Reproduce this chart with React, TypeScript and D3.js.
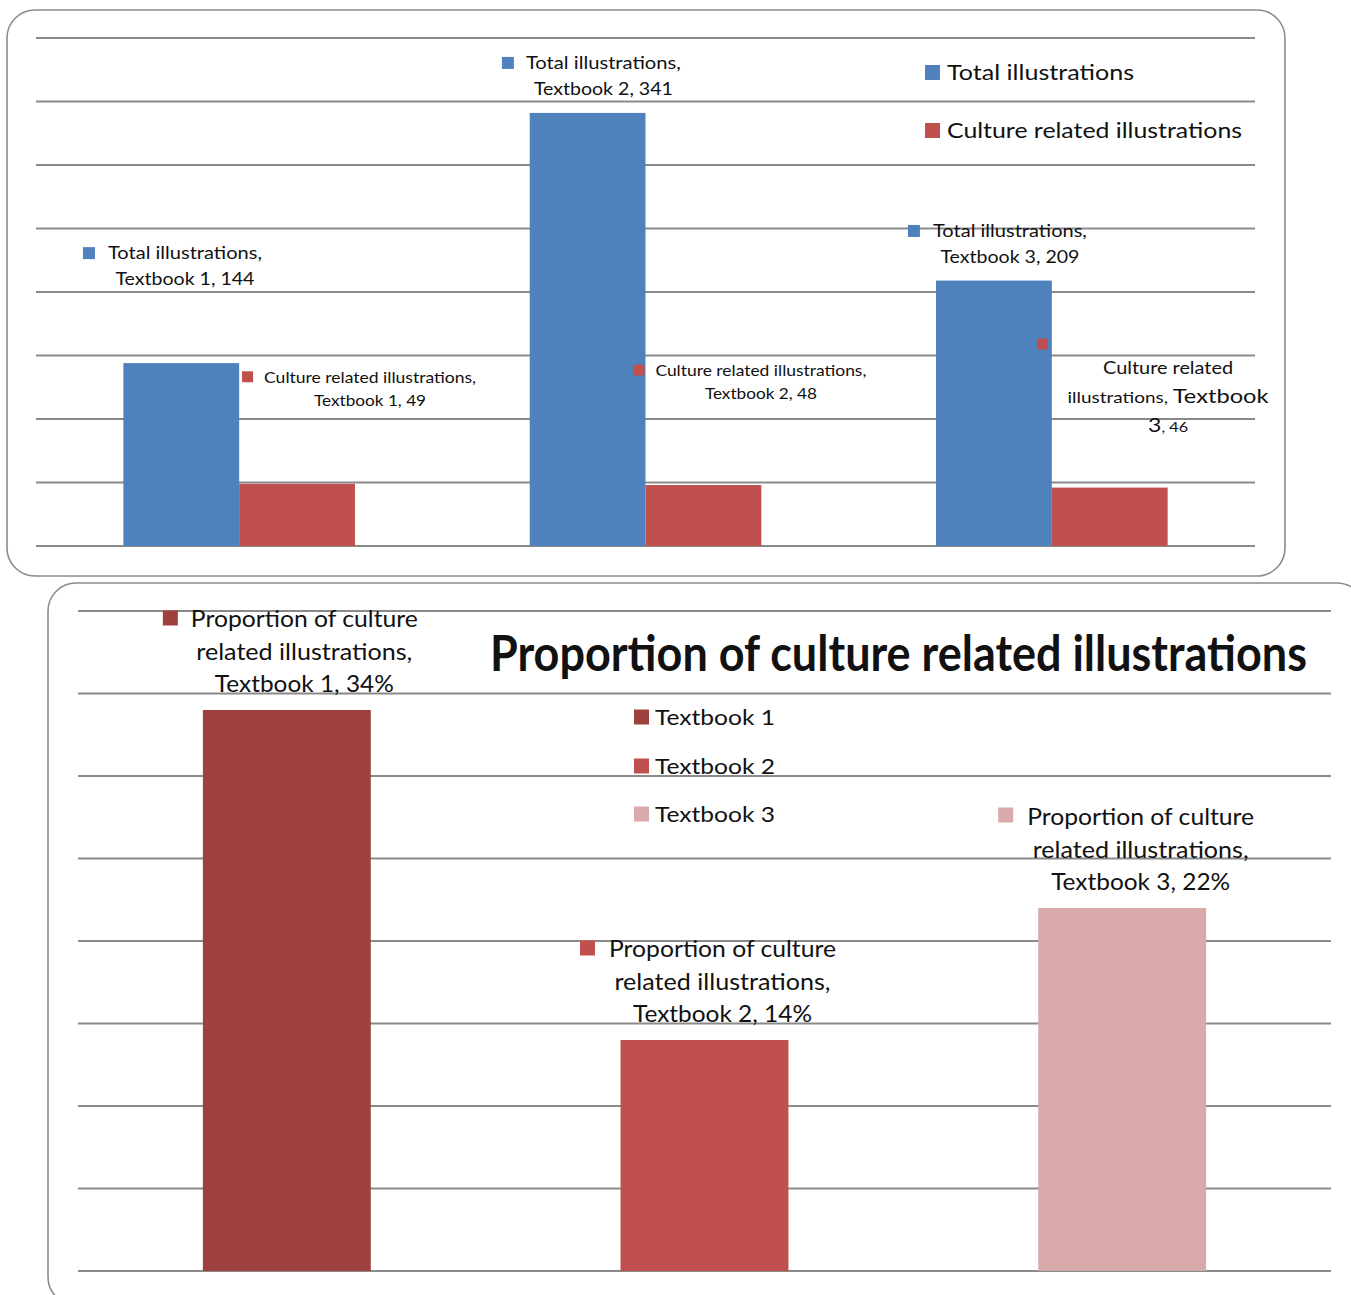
import React from 'react';
import * as d3 from 'd3';

// ---------- data ----------
const categories = ['Textbook 1', 'Textbook 2', 'Textbook 3'];
const seriesNames = ['Total illustrations', 'Culture related illustrations'];
const totalIllustrations = [144, 341, 209];
const cultureIllustrations = [49, 48, 46];
const proportionName = 'Proportion of culture related illustrations';
const proportions = [34, 14, 22];
const topTickCount = 8;
const bottomTickCount = 8;

// ---------- styles / layout ----------
const topColors = ['#4F81BD', '#C0504D'];
const bottomColors = ['#9E413E', '#C0504D', '#D9AAAA'];
const FONT = 'Lato, "Open Sans", sans-serif';
const GRID = '#8a8a8a';

// label anchors relative to bar centre / bar top (line 1 centre)
const totalLabelLayout = [
  { dx: 3.7, dy: -110, mdx: -102, mdy: 0, w: [154, 139] },
  { dx: 15.8, dy: -50, mdx: -101.5, mdy: 0, w: [155, 139] },
  { dx: 16, dy: -49.6, mdx: -102, mdy: 0, w: [154, 139] },
];
const cultureLabelLayout = [
  { dx: 73, dy: -106, mdx: -128, mdy: -1, w: [212, 112] },
  { dx: 57.5, dy: -114, mdx: -127.5, mdy: -1, w: [211, 112] },
  { dx: 58.3, dy: -119.6, mdx: -131, mdy: -24, w: [130, 201, 40] },
];
const bottomLabelLayout = [
  { dx: 17.5, dy: -91, mdx: -141.5, mdy: -1, w: [227, 216, 179] },
  { dx: 18, dy: -91, mdx: -142.5, mdy: -1, w: [227, 216, 179] },
  { dx: 18.5, dy: -91, mdx: -142.5, mdy: -2, w: [227, 216, 179] },
];

function T({ x, y, fs, w, anchor = 'middle', weight = 'normal', children }: any) {
  return (
    <text
      x={x}
      y={y + fs * 0.36}
      fontSize={fs}
      fontFamily={FONT}
      fontWeight={weight}
      textAnchor={anchor}
      fill="#111"
      textLength={w}
      lengthAdjust="spacingAndGlyphs"
    >
      {children}
    </text>
  );
}

export default function App() {
  // ----- top chart scales -----
  const xTop = d3.scaleBand<string>().domain(categories).range([36, 1255]).paddingInner(0.43).paddingOuter(0.215);
  const xSub = d3.scaleBand<string>().domain(seriesNames).range([0, xTop.bandwidth()]);
  const yTop = d3.scaleLinear().domain([0, 400]).range([546, 38]);
  const topTicks = yTop.ticks(topTickCount);
  const topSeries = [totalIllustrations, cultureIllustrations];

  // ----- bottom chart scales -----
  const xBot = d3.scaleBand<string>().domain(categories).range([78, 1331]).paddingInner(0.598).paddingOuter(0.299);
  const yBot = d3.scaleLinear().domain([0, 40]).range([1271, 611]);
  const botTicks = yBot.ticks(bottomTickCount);

  return (
    <svg width={1351} height={1295} style={{ position: 'absolute', left: 0, top: 0, background: '#fff' }}>
      {/* panels */}
      <rect x={7} y={10} width={1278} height={566} rx={28} fill="#fff" stroke="#8c8c8c" strokeWidth={1.6} />
      <rect x={48} y={583} width={1317} height={722} rx={28} fill="#fff" stroke="#8c8c8c" strokeWidth={1.6} />

      {/* ===== top chart ===== */}
      {topTicks.map((t) => (
        <line key={'tg' + t} x1={36} x2={1255} y1={yTop(t)} y2={yTop(t)} stroke={GRID} strokeWidth={2} />
      ))}
      {categories.map((c, i) =>
        seriesNames.map((s, j) => {
          const v = topSeries[j][i];
          return (
            <rect
              key={c + s}
              x={(xTop(c) as number) + (xSub(s) as number)}
              y={yTop(v)}
              width={xSub.bandwidth()}
              height={yTop(0) - yTop(v)}
              fill={topColors[j]}
            />
          );
        })
      )}
      {/* total labels */}
      {categories.map((c, i) => {
        const L = totalLabelLayout[i];
        const cx = (xTop(c) as number) + (xSub(seriesNames[0]) as number) + xSub.bandwidth() / 2 + L.dx;
        const cy = yTop(totalIllustrations[i]) + L.dy;
        const lines = [`${seriesNames[0]},`, `${c}, ${totalIllustrations[i]}`];
        return (
          <g key={'tl' + c}>
            <rect x={cx + L.mdx} y={cy + L.mdy - 6} width={12} height={12} fill={topColors[0]} />
            {lines.map((ln, k) => (
              <T key={k} x={cx} y={cy + k * 26} fs={17} w={L.w[k]}>{ln}</T>
            ))}
          </g>
        );
      })}
      {/* culture labels */}
      {categories.map((c, i) => {
        const L = cultureLabelLayout[i];
        const cx = (xTop(c) as number) + (xSub(seriesNames[1]) as number) + xSub.bandwidth() / 2 + L.dx;
        const cy = yTop(cultureIllustrations[i]) + L.dy;
        const num = c.split(' ')[1];
        return (
          <g key={'cl' + c}>
            <rect x={cx + L.mdx} y={cy + L.mdy - 5.5} width={11} height={11} fill={topColors[1]} />
            {i < 2 ? (
              <>
                <T x={cx} y={cy} fs={15} w={L.w[0]}>{`${seriesNames[1]},`}</T>
                <T x={cx} y={cy + 22.5} fs={15} w={L.w[1]}>{`${c}, ${cultureIllustrations[i]}`}</T>
              </>
            ) : (
              <>
                <T x={cx} y={cy} fs={17} w={L.w[0]}>Culture related</T>
                <text x={cx} y={cy + 29 + 17 * 0.36} textAnchor="middle" fontFamily={FONT} fill="#111" textLength={L.w[1]} lengthAdjust="spacingAndGlyphs">
                  <tspan fontSize={16}>illustrations, </tspan>
                  <tspan fontSize={20}>Textbook</tspan>
                </text>
                <text x={cx} y={cy + 58 + 17 * 0.36} textAnchor="middle" fontFamily={FONT} fill="#111" textLength={L.w[2]} lengthAdjust="spacingAndGlyphs">
                  <tspan fontSize={20}>{num}</tspan>
                  <tspan fontSize={14}>{`, ${cultureIllustrations[i]}`}</tspan>
                </text>
              </>
            )}
          </g>
        );
      })}
      {/* top legend */}
      {seriesNames.map((s, j) => (
        <g key={'lg' + s}>
          <rect x={925} y={65 + j * 58} width={15} height={15} fill={topColors[j]} />
          <T x={947} y={72 + j * 58} fs={22} w={j === 0 ? 187 : 295} anchor="start">{s}</T>
        </g>
      ))}

      {/* ===== bottom chart ===== */}
      {botTicks.map((t) => (
        <line key={'bg' + t} x1={78} x2={1331} y1={yBot(t)} y2={yBot(t)} stroke={GRID} strokeWidth={2} />
      ))}
      {categories.map((c, i) => (
        <rect
          key={'bb' + c}
          x={xBot(c) as number}
          y={yBot(proportions[i])}
          width={xBot.bandwidth()}
          height={yBot(0) - yBot(proportions[i])}
          fill={bottomColors[i]}
        />
      ))}
      {categories.map((c, i) => {
        const L = bottomLabelLayout[i];
        const cx = (xBot(c) as number) + xBot.bandwidth() / 2 + L.dx;
        const cy = yBot(proportions[i]) + L.dy;
        const lines = ['Proportion of culture', 'related illustrations,', `${c}, ${proportions[i]}%`];
        return (
          <g key={'bl' + c}>
            <rect x={cx + L.mdx} y={cy + L.mdy - 7.5} width={15} height={15} fill={bottomColors[i]} />
            {lines.map((ln, k) => (
              <T key={k} x={cx} y={cy + k * 32.5} fs={23} w={L.w[k]}>{ln}</T>
            ))}
          </g>
        );
      })}
      {/* title (condensed bold) */}
      <g transform="translate(898.5, 671)">
        <text
          x={0}
          y={0}
          transform="scale(1, 1.316)"
          fontSize={38}
          fontFamily={FONT}
          fontWeight="bold"
          textAnchor="middle"
          fill="#111"
          textLength={817}
          lengthAdjust="spacingAndGlyphs"
        >
          {proportionName}
        </text>
      </g>
      {/* bottom legend */}
      {categories.map((c, i) => {
        const ly = [717, 766, 814][i];
        return (
          <g key={'bl2' + c}>
            <rect x={634} y={ly - 7.5} width={15} height={15} fill={bottomColors[i]} />
            <T x={655} y={ly} fs={21} w={120} anchor="start">{c}</T>
          </g>
        );
      })}
    </svg>
  );
}
